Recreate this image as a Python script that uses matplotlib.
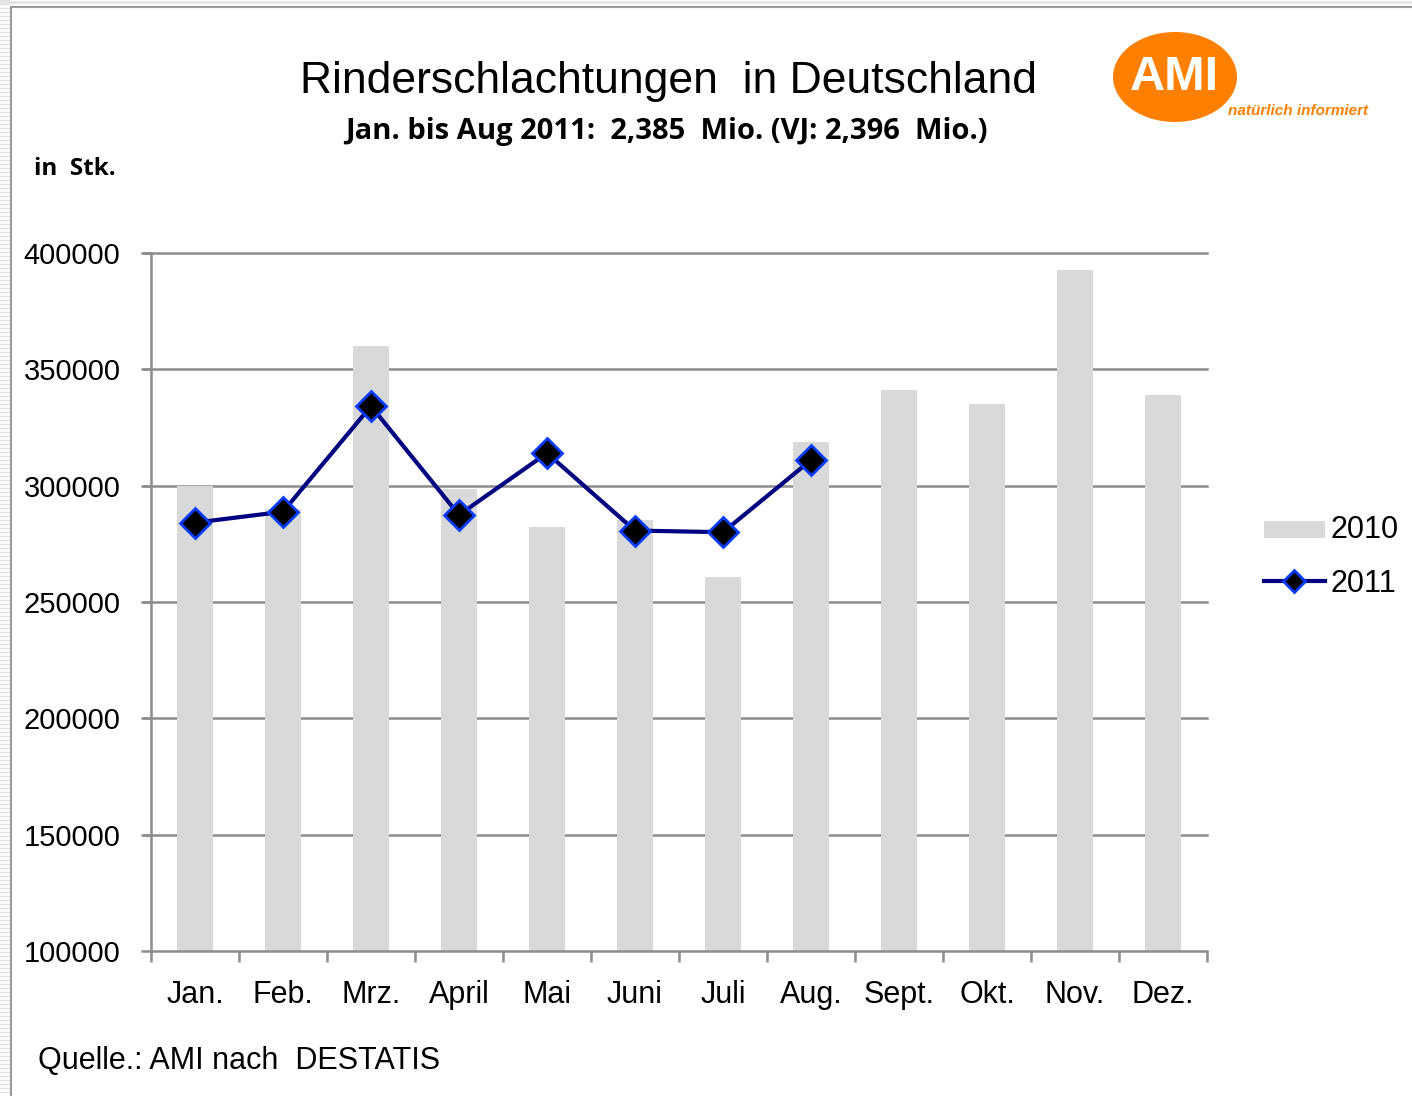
import matplotlib
matplotlib.use("Agg")
import matplotlib.pyplot as plt
from matplotlib.patches import Ellipse, Rectangle
from matplotlib.lines import Line2D
import numpy as np

months = ["Jan.", "Feb.", "Mrz.", "April", "Mai", "Juni", "Juli", "Aug.", "Sept.", "Okt.", "Nov.", "Dez."]
values_2010 = [299700, 290000, 360000, 298600, 282200, 285200, 260900, 318800, 341100, 335100, 392700, 339000]
values_2011 = [284100, 288800, 334200, 287400, 314000, 280700, 280000, 311000]
yticks = [100000, 150000, 200000, 250000, 300000, 350000, 400000]

W, H = 1412, 1096
fig = plt.figure(figsize=(W / 100, H / 100), dpi=100)
fig.patch.set_facecolor("white")

def fx(px):
    return px / W

def fy(py):
    return 1 - py / H

# frame and stripes on the left
for yy in range(0, H, 4):
    fig.add_artist(Line2D([0, fx(9)], [fy(yy), fy(yy)], color="#e4e4e4", lw=1))
fig.add_artist(Line2D([fx(11), fx(11)], [0, fy(7)], color="#9a9a9a", lw=1.5))
fig.add_artist(Line2D([fx(11), 1], [fy(7), fy(7)], color="#9a9a9a", lw=1.5))
fig.add_artist(Line2D([0, 1], [fy(2), fy(2)], color="#e4e4e4", lw=2))

ax = fig.add_axes([fx(151), fy(951), fx(1207) - fx(151), fy(253) - fy(951)])
x = np.arange(len(months))
ax.bar(x, values_2010, width=0.4, color="#d9d9d9", zorder=2, label="2010")
x11 = np.arange(len(values_2011))
ax.plot(x11, values_2011, color="#000080", lw=3, marker="D", markersize=15,
        markerfacecolor="black", markeredgecolor="#0a3cff", markeredgewidth=2,
        zorder=4, label="2011")

ax.set_ylim(100000, 400000)
ax.set_xlim(-0.5, len(months) - 0.5)
ax.set_yticks(yticks)
ax.set_yticklabels([str(v) for v in yticks], fontsize=21, family="Liberation Sans")
for v in yticks[1:]:
    ax.axhline(v, color="#8c8c8c", lw=1.8, zorder=1, xmin=-0.0066, clip_on=False)

ax.set_xticks(np.arange(len(months) + 1) - 0.5)
ax.set_xticklabels([])
ax.set_xticks(x, minor=True)
ax.set_xticklabels(months, minor=True, fontsize=22, family="Liberation Sans")
ax.tick_params(axis="x", which="minor", length=0, pad=21)
ax.tick_params(axis="x", which="major", length=8, width=1.8, color="#8c8c8c", direction="out")
ax.tick_params(axis="y", length=7, width=1.8, color="#8c8c8c", direction="out", pad=15)
for lbl in ax.get_yticklabels():
    lbl.set_y(lbl.get_position()[1])

for s in ["top", "right"]:
    ax.spines[s].set_visible(False)
for s in ["left", "bottom"]:
    ax.spines[s].set_color("#8c8c8c")
    ax.spines[s].set_linewidth(1.8)

# legend
fig.add_artist(Rectangle((fx(1264), fy(538)), fx(1325) - fx(1264), fy(521) - fy(538),
                         facecolor="#d9d9d9", edgecolor="none"))
fig.text(fx(1331), fy(530), "2010", fontsize=22, family="Liberation Sans", va="center", ha="left")
fig.add_artist(Line2D([fx(1264), fx(1325)], [fy(581), fy(581)], color="#000080", lw=3))
fig.add_artist(Line2D([fx(1294)], [fy(581)], marker="D", markersize=11, markerfacecolor="black",
                      markeredgecolor="#0a3cff", markeredgewidth=2, color="#000080"))
fig.text(fx(1331), fy(584), "2011", fontsize=22, family="Liberation Sans", va="center", ha="left")

# titles
fig.text(fx(668), fy(82), "Rinderschlachtungen  in Deutschland", fontsize=32,
         family="Liberation Sans", ha="center", va="center")
fig.text(fx(666), fy(132), "Jan. bis Aug 2011:  2,385  Mio. (VJ: 2,396  Mio.)", fontsize=21,
         family="Open Sans", weight="bold", ha="center", va="center")
fig.text(fx(34), fy(169), "in  Stk.", fontsize=17.5, family="Open Sans", weight="bold",
         ha="left", va="center")
fig.text(fx(38), fy(1061), "Quelle.: AMI nach  DESTATIS", fontsize=22,
         family="Liberation Sans", ha="left", va="center")

# logo
fig.add_artist(Ellipse((fx(1175), fy(77)), fx(124), 90 / H, facecolor="#ff8000", edgecolor="none"))
fig.text(fx(1174), fy(77), "AMI", fontsize=35, family="Liberation Sans", weight="bold",
         color="white", ha="center", va="center")
fig.text(fx(1228), fy(111), "natürlich informiert", fontsize=11, family="Liberation Sans",
         style="italic", weight="bold", color="#ff8000", ha="left", va="center")

fig.savefig("out.png", dpi=100)
